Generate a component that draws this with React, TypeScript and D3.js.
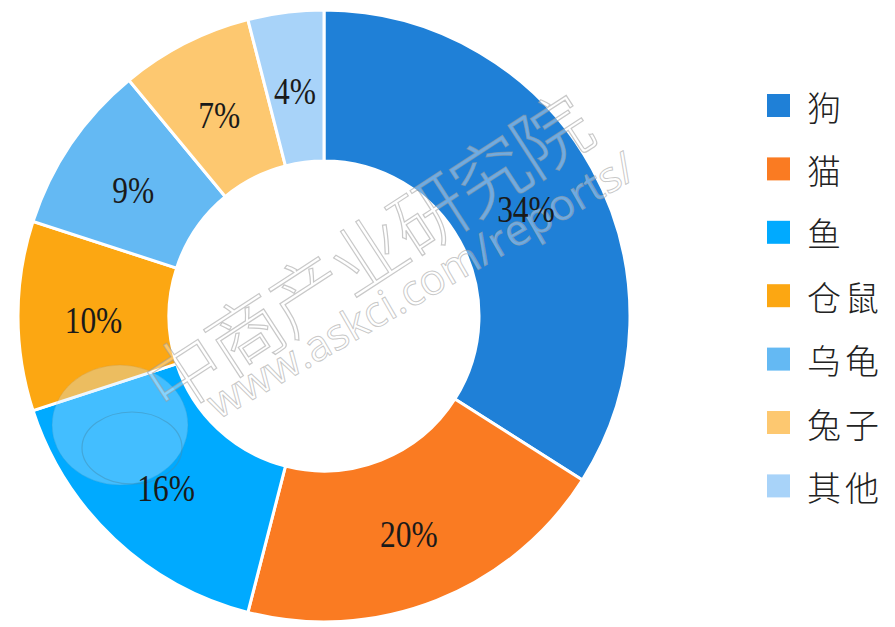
import React from "react";
import * as d3 from "d3";

const categories = ["狗", "猫", "鱼", "仓鼠", "乌龟", "兔子", "其他"];
const values = [34, 20, 16, 10, 9, 7, 4];
const colors = ["#1f80d7", "#fa7b22", "#00aaff", "#fca712", "#64b9f3", "#fdc870", "#a8d3f9"];
const watermarkTitle = "中商产业研究院";
const watermarkUrl = "www.askci.com/reports/";

const W = 895;
const H = 627;
const cx = 324;
const cy = 316;
const outerR = 306;
const innerR = 155;

export default function App() {
  const pie = d3.pie<number>().sort(null).value((d) => d)(values);
  const arc = d3.arc<d3.PieArcDatum<number>>().innerRadius(innerR).outerRadius(outerR);
  const legendX = 767;
  const legendY0 = 105;
  const legendStep = 63.4;
  return (
    <svg
      width={W}
      height={H}
      style={{ position: "absolute", left: 0, top: 0, background: "#fff" }}
    >
      <g transform={`translate(${cx},${cy})`}>
        {pie.map((p, i) => (
          <path key={i} d={arc(p) || ""} fill={colors[i]} stroke="#fff" strokeWidth={3} />
        ))}
      </g>
      {/* watermark */}
      <g opacity={0.55}>
        <ellipse cx={120} cy={425} rx={68} ry={60} fill="#cdeaff" opacity={0.6} stroke="#888" strokeOpacity={0.4} />
        <ellipse cx={132} cy={448} rx={50} ry={36} fill="none" stroke="#777" strokeWidth={1.2} opacity={0.5} />
      </g>
      <text
        transform="translate(168,418) rotate(-33)"
        fontFamily="'Noto Sans CJK SC', sans-serif"
        fontSize={76}
        fontWeight={300}
        fill="#ffffff"
        fillOpacity={0.35}
        stroke="#9a9a9a"
        strokeOpacity={0.55}
        strokeWidth={1.2}
        letterSpacing={-3}
      >
        {watermarkTitle}
      </text>
      <text
        transform="translate(218,420) rotate(-30)"
        fontFamily="'Open Sans', sans-serif"
        fontSize={43}
        fill="#ffffff"
        fillOpacity={0.35}
        stroke="#9a9a9a"
        strokeOpacity={0.55}
        strokeWidth={1}
      >
        {watermarkUrl}
      </text>
      <g transform={`translate(${cx},${cy})`}>
        {pie.map((p, i) => {
          const [x, y] = arc.centroid(p);
          return (
            <text
              key={i}
              transform={`translate(${x},${y + 4}) scale(0.9,1.06)`}
              textAnchor="middle"
              dominantBaseline="central"
              fontFamily="'Liberation Serif', 'DejaVu Serif', serif"
              fontSize={35}
              fill="#1a1a1a"
            >
              {values[i]}%
            </text>
          );
        })}
      </g>
      <g>
        {categories.map((c, i) => (
          <g key={c} transform={`translate(${legendX},${legendY0 + i * legendStep})`}>
            <rect x={0} y={-11} width={23} height={23} fill={colors[i]} />
            <text
              x={40}
              y={1}
              dominantBaseline="central"
              fontFamily="'Noto Sans CJK SC', sans-serif"
              fontSize={34}
              fontWeight={300}
              fill="#222"
              letterSpacing={4}
            >
              {c}
            </text>
          </g>
        ))}
      </g>
    </svg>
  );
}
